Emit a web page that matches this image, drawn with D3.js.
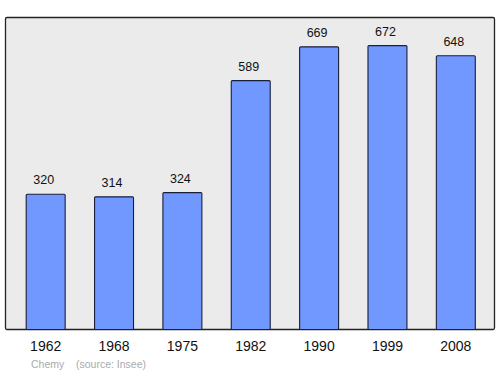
<!DOCTYPE html>
<html>
<head>
<meta charset="utf-8">
<script src="https://cdn.jsdelivr.net/npm/d3@7"></script>
<style>
  body { margin: 0; background: #fff; }
  text { font-family: "Liberation Sans", Arial, sans-serif; }
</style>
</head>
<body>
<svg width="500" height="374"></svg>
<script>
const years = ['1962', '1968', '1975', '1982', '1990', '1999', '2008'];
const population = [320, 314, 324, 589, 669, 672, 648];
const commune = 'Chemy';
const source = '(source: Insee)';

const svg = d3.select('svg');

const frame = { left: 5.5, top: 17.5, right: 494.5, bottom: 329.5 };

// plot background
svg.append('rect')
  .attr('x', frame.left)
  .attr('y', frame.top)
  .attr('width', frame.right - frame.left)
  .attr('height', frame.bottom - frame.top)
  .attr('rx', 1.5)
  .attr('fill', '#ebebeb')
  .attr('stroke', '#222')
  .attr('stroke-width', 1.3);

const x = d3.scaleBand()
  .domain(years)
  .range([11.5, 490])
  .paddingInner(0.43)
  .paddingOuter(0.215);

const y = d3.scaleLinear()
  .domain([0, 740])
  .range([frame.bottom, frame.bottom - 740 * 0.4225]);

const data = years.map((yr, i) => ({ year: yr, value: population[i] }));

svg.selectAll('rect.bar')
  .data(data)
  .join('rect')
  .attr('class', 'bar')
  .attr('x', (d) => x(d.year))
  .attr('y', (d) => y(d.value))
  .attr('width', x.bandwidth())
  .attr('height', (d) => frame.bottom - y(d.value))
  .attr('rx', 1)
  .attr('fill', '#7098ff')
  .attr('stroke', '#1a1f3a')
  .attr('stroke-width', 1.1);

// value labels
svg.selectAll('text.val')
  .data(data)
  .join('text')
  .attr('class', 'val')
  .attr('x', (d) => x(d.year) + x.bandwidth() / 2 - 2)
  .attr('y', (d) => y(d.value) - 10)
  .attr('text-anchor', 'middle')
  .attr('font-size', 12.5)
  .attr('fill', '#111')
  .text((d) => d.value);

// year axis
const axis = svg.append('g')
  .attr('transform', `translate(0,${frame.bottom})`)
  .call(d3.axisBottom(x).tickSize(0).tickPadding(12));
axis.select('.domain').remove();
axis.selectAll('text')
  .attr('font-size', 14)
  .attr('font-family', '"Liberation Sans", Arial, sans-serif')
  .attr('fill', '#111');

// footer
svg.append('text')
  .attr('x', 31)
  .attr('y', 368)
  .attr('font-size', 10.5)
  .attr('fill', '#aaa')
  .text(commune);
svg.append('text')
  .attr('x', 76)
  .attr('y', 368)
  .attr('font-size', 10.5)
  .attr('fill', '#aaa')
  .text(source);
</script>
</body>
</html>
